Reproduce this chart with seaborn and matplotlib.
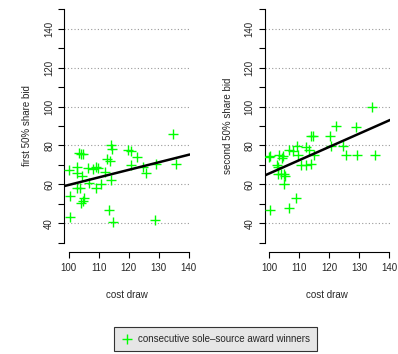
import numpy as np
import pandas as pd
import matplotlib
matplotlib.use("Agg")
import matplotlib.pyplot as plt
import seaborn as sns
from matplotlib.lines import Line2D

sns.set_theme(style="white")
plt.rcParams['font.family'] = ['Liberation Sans', 'DejaVu Sans']

# ---- data ----
cost_first = [100.1, 100.4, 100.4, 102.9, 102.9, 102.6, 103.3, 104.1, 103.7, 104.4,
              104.8, 104.2, 104.8, 105.0, 106.4, 106.8, 108.1, 109.2, 109.8, 109.1,
              110.7, 112.1, 112.6, 113.7, 114.0, 113.4, 114.2, 114.4, 114.8, 119.8,
              120.7, 120.9, 122.6, 124.8, 125.6, 129.2, 128.8, 134.6, 135.6]
bid_first = [67.6, 54.2, 43.1, 69.0, 65.6, 57.9, 76.2, 75.5, 57.9, 64.2,
             75.7, 50.6, 51.4, 52.8, 68.5, 60.8, 68.0, 69.0, 68.5, 57.9,
             60.3, 66.5, 72.8, 72.1, 62.4, 46.7, 80.0, 78.4, 40.5, 77.9,
             77.4, 70.2, 74.0, 69.0, 65.6, 70.5, 41.7, 86.1, 70.5]

cost_second = [100.0, 100.4, 100.4, 102.7, 103.0, 102.9, 103.4, 104.0, 104.2, 104.6,
               104.8, 105.1, 105.0, 106.6, 106.6, 107.9, 109.1, 109.0, 109.6, 110.7,
               112.1, 112.3, 113.4, 113.8, 114.0, 114.6, 114.9, 120.1, 120.7, 122.3,
               124.6, 125.7, 128.8, 129.2, 134.3, 135.4]
bid_second = [74.0, 74.8, 46.8, 69.9, 69.0, 65.1, 75.0, 65.4, 73.6, 74.8,
              65.1, 64.2, 60.1, 77.9, 48.0, 77.0, 79.9, 53.1, 75.0, 70.2,
              70.2, 79.1, 77.7, 70.7, 85.1, 85.1, 75.3, 85.1, 79.9, 90.2,
              79.9, 75.3, 89.5, 75.3, 99.9, 75.0]

# fitted lines: intercept, slope
fit_first = [20.9, 0.388]
fit_second = [-2.7, 0.683]

x_ticks = [100, 110, 120, 130, 140]
y_ticks = [30, 40, 50, 60, 70, 80, 90, 100, 110, 120, 130, 140, 150]
y_tick_labels = ['', '40', '', '60', '', '80', '', '100', '', '120', '', '140', '']
grid_levels = [40, 60, 80, 100, 120, 140]
y_labels = ["first 50% share bid", "second 50% share bid"]
x_label = "cost draw"
legend_label = "consecutive sole\u2013source award winners"

W, H = 398, 354
fig = plt.figure(figsize=(W / 100, H / 100), dpi=100)
FS = 7
green = "#00ff00"
XMIN, XMAX = 98.4, 140.3

panels = [
    (64, cost_first, bid_first, fit_first, y_labels[0]),
    (264.5, cost_second, bid_second, fit_second, y_labels[1]),
]

for left, xs, ys, fit, ylab in panels:
    ax = fig.add_axes([left / W, (H - 252) / H, (XMAX - XMIN) * 3 / W, 252 / H])
    ax.set_xlim(XMIN, XMAX)
    ax.set_ylim(25.2, 154.8)
    for g in grid_levels:
        ax.axhline(g, color="#9a9a9a", lw=0.8, linestyle=(0, (1, 2)), zorder=1)
    df = pd.DataFrame({"x": xs, "y": ys})
    sns.scatterplot(data=df, x="x", y="y", marker="+", color=green, s=45,
                    linewidth=1.0, ax=ax, zorder=3)
    ax.axline((0, fit[0]), slope=fit[1], color="black", lw=1.8, zorder=4)
    ax.set_xticks(x_ticks)
    ax.set_xticklabels([str(t) for t in x_ticks], fontsize=FS)
    ax.set_yticks(y_ticks)
    ax.set_yticklabels(y_tick_labels, fontsize=FS, rotation=90, va="center")
    ax.tick_params(axis="both", direction="out", length=4, width=0.8,
                   color="black", pad=3, left=True, bottom=True)
    ax.tick_params(axis="x", pad=4)
    for s in ["top", "right"]:
        ax.spines[s].set_visible(False)
    ax.spines["left"].set_bounds(30, 150)
    ax.spines["bottom"].set_bounds(100, 140)
    for s in ["left", "bottom"]:
        ax.spines[s].set_color("black")
        ax.spines[s].set_linewidth(0.8)
    ax.set_xlabel(x_label, fontsize=FS, labelpad=12.5)
    ax.set_ylabel(ylab, fontsize=FS, labelpad=8.5)
    ax.set_facecolor("white")

handle = Line2D([], [], marker="+", color=green, linestyle="none",
                markersize=6.5, markeredgewidth=1.0)
leg = fig.legend([handle], [legend_label], loc="center",
                 bbox_to_anchor=(215.5 / W, 15 / H), fontsize=FS,
                 frameon=True, fancybox=False, framealpha=1,
                 handlelength=1.2, handletextpad=0.6, borderpad=0.7,
                 borderaxespad=0)
leg.get_frame().set_facecolor("#e6e6e6")
leg.get_frame().set_edgecolor("#333333")
leg.get_frame().set_linewidth(0.8)

fig.savefig("out.png", dpi=100)
